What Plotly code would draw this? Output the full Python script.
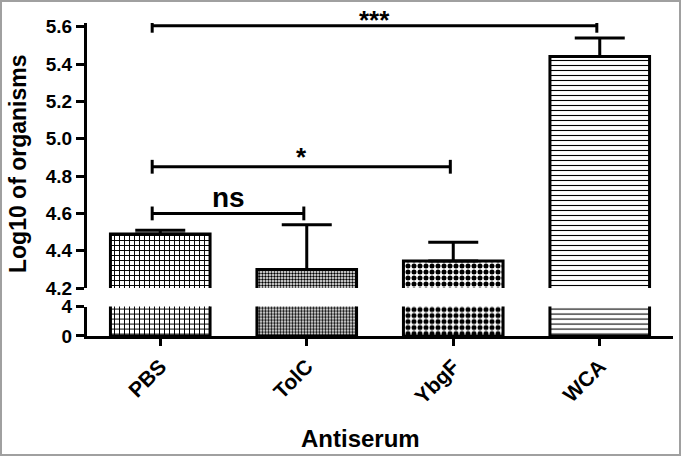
import plotly.graph_objects as go

# ---- data ----
categories = ["PBS", "TolC", "YbgF", "WCA"]
means = [4.49, 4.30, 4.345, 5.44]
sem_upper = [0.02, 0.24, 0.10, 0.10]
lower_ticks = [0, 4]
upper_ticks = [4.2, 4.4, 4.6, 4.8, 5.0, 5.2, 5.4, 5.6]
bracket_from = ["PBS", "PBS", "PBS"]
bracket_to = ["TolC", "YbgF", "WCA"]
bracket_level = [4.60, 4.85, 5.605]
bracket_label = ["ns", "*", "***"]

# ---- styles ----
FONT = "Liberation Sans"
pat_shape = ["+", ".", ".", "-"]
pat_size = [5, 3, 6, 5]
pat_solid = [0.35, 0.5, 0.55, 0.22]
label_size = {"ns": 28, "*": 26, "***": 26}
label_shift = {"ns": -2, "*": -7, "***": -11}

marker = dict(
    color="white",
    line=dict(color="black", width=3),
    pattern=dict(shape=pat_shape, size=pat_size, solidity=pat_solid,
                 fgcolor="black", bgcolor="white", fillmode="replace"),
)

fig = go.Figure()
# lower segment (0-4)
fig.add_trace(go.Bar(x=categories, y=means, marker=marker, width=0.68,
                     xaxis="x", yaxis="y", showlegend=False, hoverinfo="skip"))
# upper segment (4.2-5.6)
fig.add_trace(go.Bar(x=categories, y=means, marker=marker, width=0.68,
                     xaxis="x", yaxis="y2", showlegend=False,
                     error_y=dict(type="data", symmetric=False, array=sem_upper,
                                  arrayminus=[0] * len(sem_upper),
                                  color="black", thickness=3, width=25)))

shapes = []
annotations = []
tick_h = 0.037
for a, b, lvl, lab in zip(bracket_from, bracket_to, bracket_level, bracket_label):
    xa = categories.index(a) - 0.055
    xb = categories.index(b) - 0.02
    line = dict(color="black", width=3)
    shapes.append(dict(type="line", xref="x", yref="y2", x0=xa, x1=xb, y0=lvl, y1=lvl, line=line))
    shapes.append(dict(type="line", xref="x", yref="y2", x0=xa, x1=xa, y0=lvl - tick_h, y1=lvl + tick_h, line=line))
    shapes.append(dict(type="line", xref="x", yref="y2", x0=xb, x1=xb, y0=lvl - tick_h, y1=lvl + tick_h, line=line))
    annotations.append(dict(x=(xa + xb) / 2, y=lvl, xref="x", yref="y2", text=lab,
                            showarrow=False, yanchor="bottom", yshift=label_shift[lab],
                            font=dict(family=FONT, size=label_size[lab], color="black", weight="bold")))

# outer gray frame
shapes.append(dict(type="rect", xref="paper", yref="paper",
                   x0=-86 / 586, x1=1 + 7 / 586, y0=-119 / 313, y1=1 + 22 / 313,
                   line=dict(color="#a0a0a0", width=2)))

annotations.append(dict(x=(18 - 87) / 586, y=(336 - 164) / 313, xref="paper", yref="paper",
                        xanchor="center", yanchor="middle",
                        text="Log10 of organisms", textangle=-90, showarrow=False,
                        font=dict(family=FONT, size=23, color="black", weight="bold")))
annotations.append(dict(x=(360 - 87) / 586, y=(336 - 438) / 313, xref="paper", yref="paper",
                        xanchor="center", yanchor="middle",
                        text="Antiserum", showarrow=False,
                        font=dict(family=FONT, size=24, color="black", weight="bold")))

axis_common = dict(showline=True, linecolor="black", linewidth=3, ticks="outside",
                   tickcolor="black", tickwidth=3, showgrid=False, zeroline=False)
yfont = dict(family=FONT, size=19, color="black", weight="bold")
xfont = dict(family=FONT, size=21, color="black", weight="bold")

fig.update_layout(
    width=681, height=456,
    margin=dict(l=87, r=8, t=23, b=120),
    paper_bgcolor="white", plot_bgcolor="white",
    xaxis=dict(type="category", range=[-0.5, 3.5], anchor="y", ticklen=7,
               tickangle=-45, tickfont=xfont, **axis_common),
    yaxis=dict(domain=[0, 0.094], range=[0, 4], tickvals=lower_ticks,
               ticktext=[str(v) for v in lower_ticks], ticklen=8, anchor="x",
               tickfont=yfont, **axis_common),
    yaxis2=dict(domain=[0.153, 1], range=[4.2, 5.62], tickvals=upper_ticks,
                tickformat=".1f", ticklen=8, anchor="x", tickfont=yfont, **axis_common),
    shapes=shapes,
    annotations=annotations,
)

fig.write_html("out.html", config={"displayModeBar": False},
               post_script="document.body.style.margin='0';")
